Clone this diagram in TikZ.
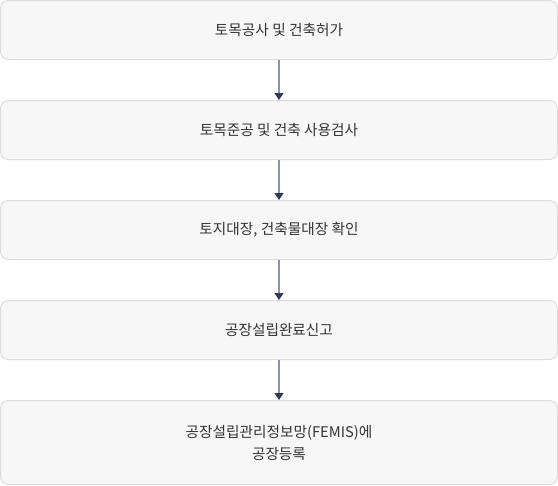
\documentclass[tikz,border=0pt]{standalone}
\usepackage{fontspec}
\setmainfont{Noto Sans CJK KR}
\usetikzlibrary{arrows.meta}
\definecolor{boxfill}{HTML}{F7F7F7}
\definecolor{boxline}{HTML}{DDDDDD}
\definecolor{txt}{HTML}{333333}
\definecolor{arrline}{HTML}{8A93A8}
\definecolor{arrhead}{HTML}{2C3A5C}
\begin{document}
\begin{tikzpicture}[x=0.75pt,y=-0.75pt,
  stepbox/.style={draw=boxline,fill=boxfill,rounded corners=6pt,line width=0.75pt,
    minimum width=417.75pt,
    text=txt,font=\fontsize{11pt}{16.5pt}\selectfont,align=center,inner sep=0pt},
  flowarrow/.style={draw=arrline,line width=1.1pt,
    -{Triangle[length=5.25pt,width=6.75pt,color=arrhead,fill=arrhead]}}]
\useasboundingbox (0,0) rectangle (558,486);
\node[stepbox,minimum height=44.25pt] (b1) at (279,30) {토목공사 및 건축허가};
\node[stepbox,minimum height=44.25pt] (b2) at (279,130) {토목준공 및 건축 사용검사};
\node[stepbox,minimum height=44.25pt] (b3) at (279,230) {토지대장, 건축물대장 확인};
\node[stepbox,minimum height=44.25pt] (b4) at (279,330) {공장설립완료신고};
\node[stepbox,minimum height=63pt] (b5) at (279,442.5) {공장설립관리정보망(FEMIS)에\\공장등록};
\draw[flowarrow] (b1.south) -- (b2.north);
\draw[flowarrow] (b2.south) -- (b3.north);
\draw[flowarrow] (b3.south) -- (b4.north);
\draw[flowarrow] (b4.south) -- (b5.north);
\end{tikzpicture}
\end{document}
